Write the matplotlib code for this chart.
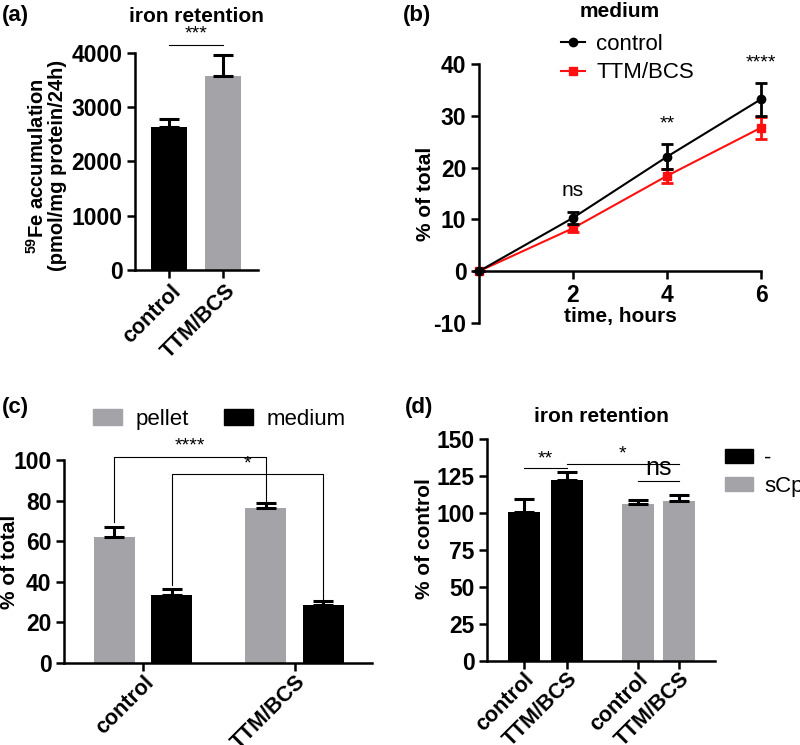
#!/usr/bin/env python3
"""Four-panel iron retention figure (a-d)."""

import matplotlib
matplotlib.use("Agg")
import matplotlib.pyplot as plt
from matplotlib.patches import Patch
from matplotlib.lines import Line2D
from matplotlib.transforms import ScaledTranslation

plt.rcParams["font.family"] = ["Liberation Sans", "DejaVu Sans"]
plt.rcParams["mathtext.fontset"] = "custom"
plt.rcParams["mathtext.rm"] = "Liberation Sans"
plt.rcParams["mathtext.bf"] = "Liberation Sans:bold"
plt.rcParams["axes.unicode_minus"] = False

GREY = "#a3a3a8"
RED = "#ff1010"

# (a) iron retention
a_labels = ["control", "TTM/BCS"]
a_values = [2640, 3580]
a_err = [140, 380]

# (b) medium time course
b_time = [0, 2, 4, 6]
b_control = [0, 10.3, 22.1, 33.2]
b_control_err = [0, 1.2, 2.4, 3.2]
b_ttm = [0, 8.3, 18.4, 27.7]
b_ttm_err = [0, 0.7, 1.4, 2.1]
b_marks = ["ns", "**", "****"]
b_mark_y = [13.8, 26.8, 38.6]

# (c) pellet / medium
c_groups = ["control", "TTM/BCS"]
c_pellet = [62.3, 76.6]
c_pellet_err = [4.9, 2.4]
c_medium = [33.6, 28.4]
c_medium_err = [2.8, 1.9]

# (d) iron retention with sCp
d_labels = ["control", "TTM/BCS", "control", "TTM/BCS"]
d_values = [100.4, 122.5, 106.3, 108.1]
d_err = [9.3, 5.2, 2.7, 3.8]
d_pos = [0, 1, 2.65, 3.6]

W, H = 800, 745
TICK_FS = 16.5
ROT_FS = 15.5
LABEL_FS = 15


def rect(left, top, right, bottom):
    return [left / W, 1 - bottom / H, (right - left) / W, (bottom - top) / H]


def style_axes(ax):
    for side in ["top", "right"]:
        ax.spines[side].set_visible(False)
    for side in ["left", "bottom"]:
        ax.spines[side].set_linewidth(1.8)
    ax.tick_params(width=1.8, length=6, labelsize=TICK_FS, pad=3)
    for lab in ax.get_xticklabels() + ax.get_yticklabels():
        lab.set_fontweight("bold")


def rot_labels(ax, positions, labels, dx=6, dy=-16):
    # drawn as plain texts so the end of each label sits just right of its tick
    ax.set_xticks(positions)
    ax.set_xticklabels([])
    tr = ax.get_xaxis_transform() + ScaledTranslation(dx / 100, dy / 100,
                                                      fig.dpi_scale_trans)
    for x, lab in zip(positions, labels):
        ax.text(x, 0, lab, transform=tr, rotation=45, ha="right", va="center",
                rotation_mode="anchor", fontsize=ROT_FS, fontweight="bold",
                clip_on=False)


def upper_err(ax, x, y, e, color="black"):
    ax.errorbar(x, y, yerr=[[0] * len(e), e], fmt="none", ecolor=color,
                elinewidth=2.2, capsize=7, capthick=2.2, clip_on=False, zorder=3)


def ylabel_at(ax, text, right_px, ax_left, ax_w, y=0.5, **kw):
    ax.set_ylabel(text, fontweight="bold", **kw)
    ax.yaxis.set_label_coords((right_px - ax_left) / ax_w, y)


fig = plt.figure(figsize=(8, 7.45), dpi=100)

# ---------------- (a)
ax = fig.add_axes(rect(135, 53, 258, 270))
ax.bar([0, 1], a_values, width=0.67, color=["black", GREY])
upper_err(ax, [0, 1], a_values, a_err)
ax.set_xlim(-0.63, 1.65)
ax.set_ylim(0, 4000)
ax.set_yticks([0, 1000, 2000, 3000, 4000])
style_axes(ax)
rot_labels(ax, [0, 1], a_labels, dx=9, dy=-18)
ylabel_at(ax, r"$\mathbf{^{59}}$Fe accumulation" + "\n(pmol/mg protein/24h)",
          67, 135, 123, y=0.48, fontsize=14.5, linespacing=1.0)
ax.plot([0, 1], [4150, 4150], color="black", lw=0.8, clip_on=False)
ax.text(0.5, 4190, "***", ha="center", va="bottom", fontsize=14)
ax.set_title("iron retention", fontsize=15, fontweight="bold", pad=22)
fig.text(2 / W, 1 - 16 / H, "(a)", fontsize=16, fontweight="bold", va="center")

# ---------------- (b)
ax = fig.add_axes(rect(479, 64, 761, 323))
ax.errorbar(b_time, b_control, yerr=b_control_err, color="black", marker="o",
            ms=6, lw=1.5, elinewidth=2, capsize=4, capthick=2, clip_on=False,
            zorder=4)
ax.errorbar(b_time, b_ttm, yerr=b_ttm_err, color=RED, marker="s", ms=6, lw=1.5,
            elinewidth=2, capsize=4, capthick=2, clip_on=False, zorder=3)
ax.set_xlim(0, 6)
ax.set_ylim(-10, 40)
ax.set_yticks([-10, 0, 10, 20, 30, 40])
ax.set_xticks([2, 4, 6])
ax.spines["bottom"].set_position(("data", 0))
style_axes(ax)
ax.set_xlabel("time, hours", fontsize=LABEL_FS, fontweight="bold", labelpad=0)
ylabel_at(ax, "% of total", 435, 479, 282, fontsize=LABEL_FS)
for t, m, y in zip(b_time[1:], b_marks, b_mark_y):
    ax.text(t, y, m, ha="center", va="bottom", fontsize=15 if m == "ns" else 14)
handles = [Line2D([], [], color="black", marker="o", ms=6, lw=1.5, label="control"),
           Line2D([], [], color=RED, marker="s", ms=6, lw=1.5, label="TTM/BCS")]
ax.legend(handles=handles, loc="center left", bbox_to_anchor=(0.29, 1.02),
          frameon=False, fontsize=16, handlelength=1.1, handletextpad=0.5,
          labelspacing=0.32, borderaxespad=0, borderpad=0)
ax.set_title("medium", fontsize=15, fontweight="bold", pad=34)
fig.text(403 / W, 1 - 16 / H, "(b)", fontsize=16, fontweight="bold", va="center")

# ---------------- (c)
ax = fig.add_axes(rect(64, 460, 372, 663))
gx = [0, 1]
off, bw = 0.19, 0.27
px = [g - off for g in gx]
mx = [g + off for g in gx]
ax.bar(px, c_pellet, width=bw, color=GREY)
ax.bar(mx, c_medium, width=bw, color="black")
upper_err(ax, px, c_pellet, c_pellet_err)
upper_err(ax, mx, c_medium, c_medium_err)
ax.set_xlim(-0.52, 1.51)
ax.set_ylim(0, 100)
ax.set_yticks([0, 20, 40, 60, 80, 100])
style_axes(ax)
rot_labels(ax, gx, c_groups, dx=8, dy=-16)
ylabel_at(ax, "% of total", 19, 64, 308, fontsize=LABEL_FS)
# brackets
ax.plot([px[0], px[0], px[1], px[1]], [69.5, 101.5, 101.5, 77.5],
        color="black", lw=0.8, clip_on=False)
ax.text((px[0] + px[1]) / 2, 102.5, "****", ha="center", va="bottom", fontsize=14)
ax.plot([mx[0], mx[0], mx[1], mx[1]], [38.5, 93, 93, 31],
        color="black", lw=0.8, clip_on=False)
ax.text((mx[0] + mx[1]) / 2, 94, "*", ha="center", va="bottom", fontsize=14)
ax.legend(handles=[Patch(color=GREY, label="pellet"),
                   Patch(color="black", label="medium")],
          loc="center left", bbox_to_anchor=(0.094, 1.20), ncol=2, frameon=False,
          fontsize=16, handlelength=1.3, handleheight=0.7, handletextpad=0.6,
          columnspacing=1.6, borderaxespad=0, borderpad=0)
fig.text(2 / W, 1 - 408 / H, "(c)", fontsize=16, fontweight="bold", va="center")

# ---------------- (d)
ax = fig.add_axes(rect(487, 439, 715, 661))
colors = ["black", "black", GREY, GREY]
ax.bar(d_pos, d_values, width=0.74, color=colors)
upper_err(ax, d_pos, d_values, d_err)
ax.set_xlim(-0.86, 4.44)
ax.set_ylim(0, 150)
ax.set_yticks([0, 25, 50, 75, 100, 125, 150])
style_axes(ax)
rot_labels(ax, d_pos, d_labels, dx=7, dy=-15)
ylabel_at(ax, "% of control", 434, 487, 228, y=0.55, fontsize=LABEL_FS)
ax.plot([d_pos[0], d_pos[1]], [130.5, 130.5], color="black", lw=0.8)
ax.text(0.5, 130.5, "**", ha="center", va="bottom", fontsize=14)
ax.plot([d_pos[1], d_pos[3]], [133.2, 133.2], color="black", lw=0.8)
ax.text((d_pos[1] + d_pos[3]) / 2, 134, "*", ha="center", va="bottom", fontsize=14)
ax.plot([d_pos[2], d_pos[3]], [121.5, 121.5], color="black", lw=0.8)
ax.text((d_pos[2] + d_pos[3]) / 2, 122, "ns", ha="center", va="bottom", fontsize=18)
ax.set_title("iron retention", fontsize=15, fontweight="bold", pad=12)
fig.legend(handles=[Patch(color="black", label="-"),
                    Patch(color=GREY, label="sCp")],
           loc="upper left", bbox_to_anchor=(725 / W, 1 - 448 / H),
           frameon=False, fontsize=16, handlelength=1.25, handleheight=0.6,
           handletextpad=0.5, labelspacing=0.3, borderaxespad=0, borderpad=0)
fig.text(405 / W, 1 - 408 / H, "(d)", fontsize=16, fontweight="bold", va="center")

fig.savefig("out.png", dpi=100)
